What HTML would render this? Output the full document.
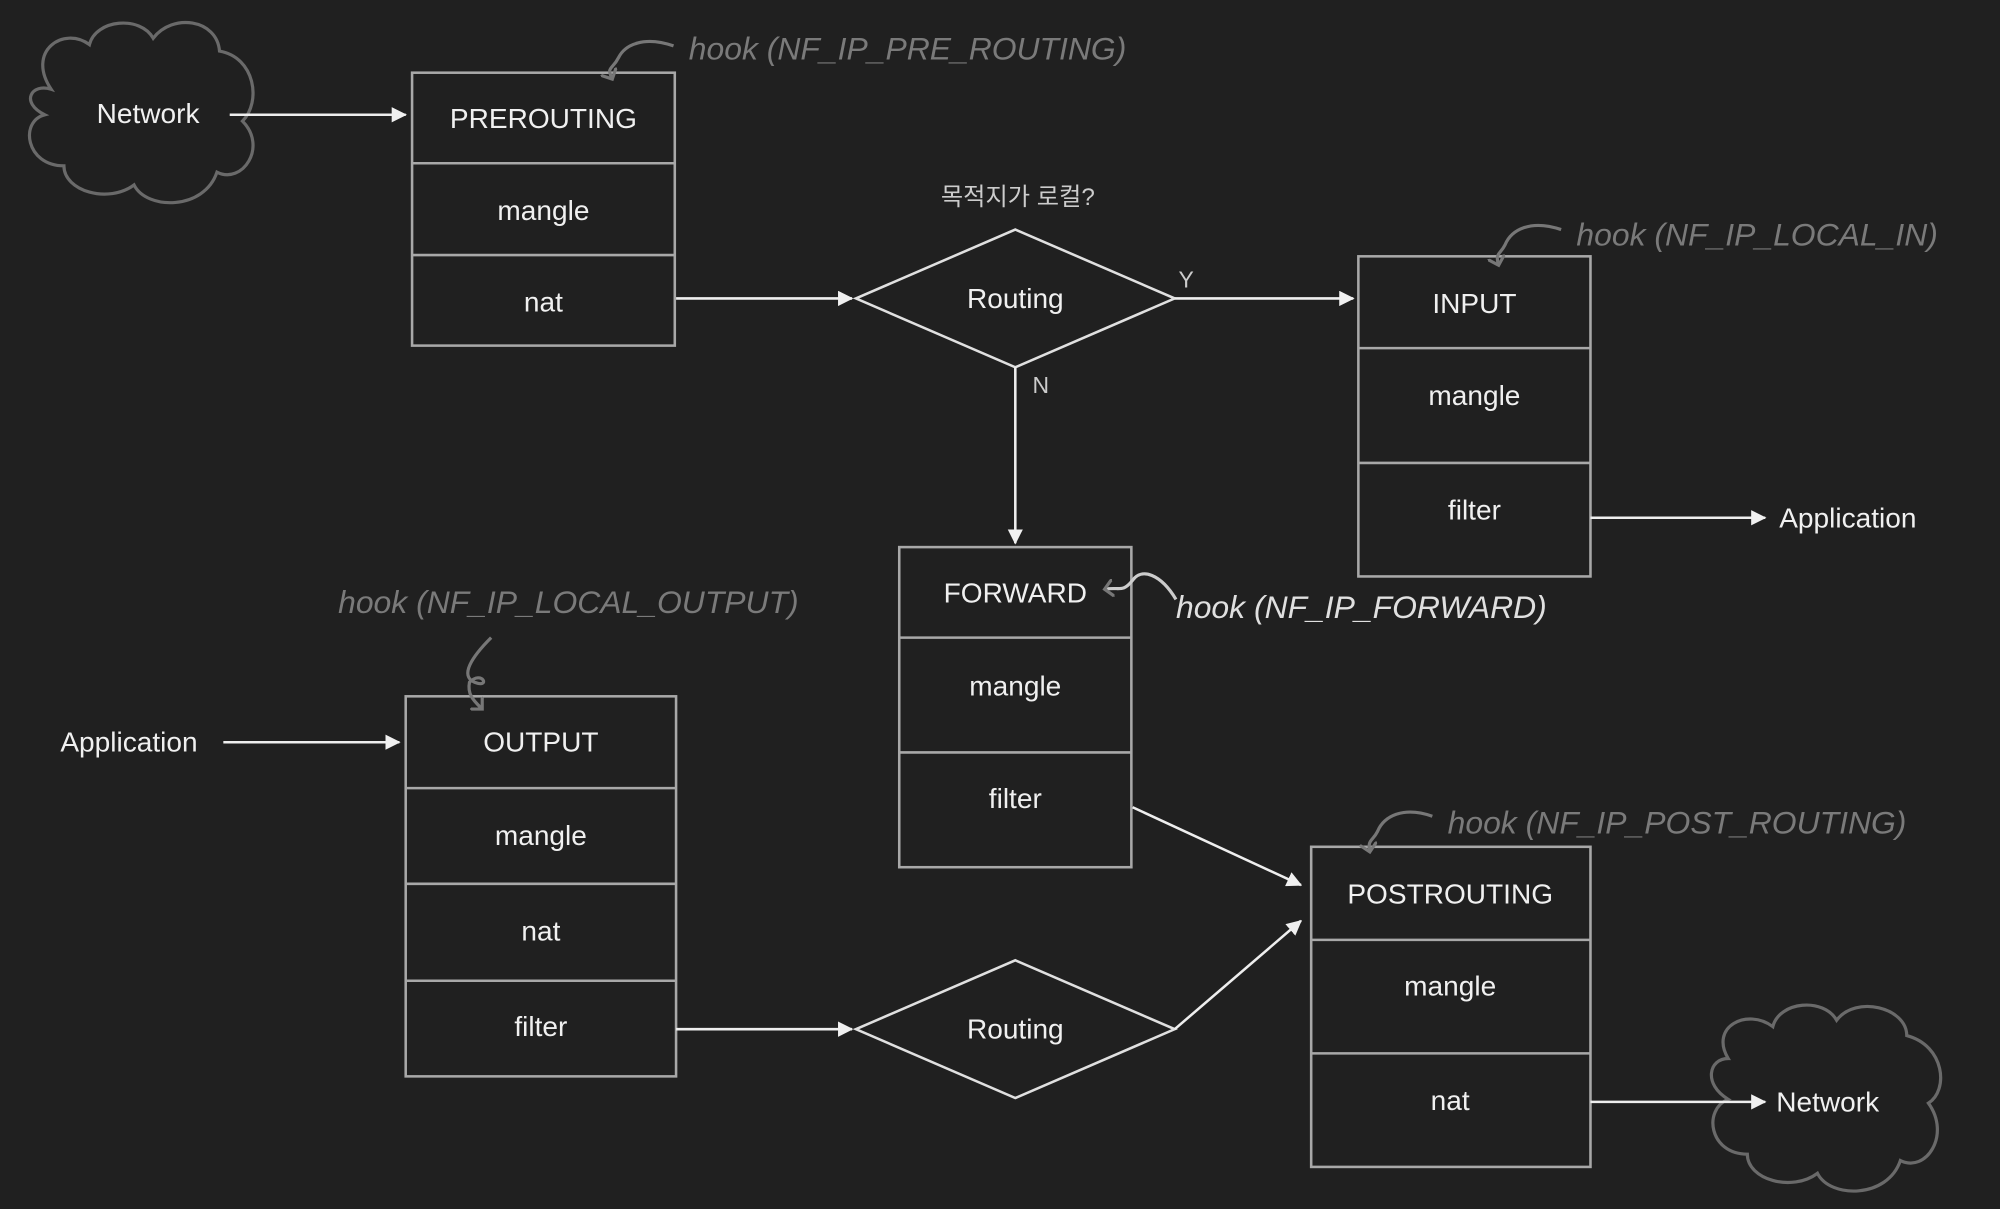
<!DOCTYPE html>
<html><head><meta charset="utf-8"><style>
html,body{margin:0;padding:0;background:#202020;}
svg{display:block}
.t{font-family:"Liberation Sans","Noto Sans CJK KR",sans-serif;fill:#f0f0f0;font-size:22px;text-anchor:middle;dominant-baseline:central}
.h{font-family:"Liberation Sans",sans-serif;font-style:italic;fill:#7a7a7a;font-size:25px;dominant-baseline:central}
.b{fill:none;stroke:#a8a8a8;stroke-width:2}
.l{fill:none;stroke:#eeeeee;stroke-width:2}
.c{fill:none;stroke:#6a6a6a;stroke-width:2.5}
.k{fill:none;stroke:#777;stroke-width:2.5}
</style></head><body>
<svg width="2000" height="1209" viewBox="0 0 1568 948" xmlns="http://www.w3.org/2000/svg">
<defs><marker id="a" markerWidth="12" markerHeight="12" refX="11" refY="6" orient="auto" markerUnits="userSpaceOnUse"><path d="M0,0 L12,6 L0,12 z" fill="#f0f0f0"/></marker>
<marker id="g" markerWidth="14" markerHeight="14" refX="7" refY="7" orient="auto" markerUnits="userSpaceOnUse"><path d="M0,0 L7,7 L0,14" fill="none" stroke="#777" stroke-width="2.5"/></marker></defs>
<rect width="1568" height="948" fill="#202020"/>
<!-- clouds -->
<path class="c" d="M40,70 C20,40 50,20 70,35 C75,15 110,12 120,30 C135,10 170,15 172,40 C200,45 205,80 190,95 C210,115 190,145 170,135 C160,165 115,165 105,145 C85,160 50,150 50,130 C20,130 15,95 35,90 C15,80 25,65 40,70 z"/>
<path class="c" d="M1355,830 C1340,805 1370,790 1390,805 C1395,785 1430,782 1440,800 C1455,780 1495,790 1495,812 C1525,820 1528,855 1512,865 C1530,890 1510,920 1490,910 C1480,940 1435,940 1425,920 C1405,935 1370,925 1370,905 C1340,905 1335,870 1355,862 C1335,850 1340,830 1355,830 z"/>
<text class="t" x="116" y="89">Network</text>
<text class="t" x="1433" y="864">Network</text>
<!-- PREROUTING -->
<rect class="b" x="323" y="57" width="206" height="214"/>
<line class="b" x1="323" y1="128" x2="529" y2="128"/><line class="b" x1="323" y1="200" x2="529" y2="200"/>
<text class="t" x="426" y="93">PREROUTING</text><text class="t" x="426" y="165">mangle</text><text class="t" x="426" y="237">nat</text>
<!-- INPUT -->
<rect class="b" x="1065" y="201" width="182" height="251"/>
<line class="b" x1="1065" y1="273" x2="1247" y2="273"/><line class="b" x1="1065" y1="363" x2="1247" y2="363"/>
<text class="t" x="1156" y="238">INPUT</text><text class="t" x="1156" y="310">mangle</text><text class="t" x="1156" y="400">filter</text>
<!-- FORWARD -->
<rect class="b" x="705" y="429" width="182" height="251"/>
<line class="b" x1="705" y1="500" x2="887" y2="500"/><line class="b" x1="705" y1="590" x2="887" y2="590"/>
<text class="t" x="796" y="465">FORWARD</text><text class="t" x="796" y="538">mangle</text><text class="t" x="796" y="626">filter</text>
<!-- OUTPUT -->
<rect class="b" x="318" y="546" width="212" height="298"/>
<line class="b" x1="318" y1="618" x2="530" y2="618"/><line class="b" x1="318" y1="693" x2="530" y2="693"/><line class="b" x1="318" y1="769" x2="530" y2="769"/>
<text class="t" x="424" y="582">OUTPUT</text><text class="t" x="424" y="655">mangle</text><text class="t" x="424" y="730">nat</text><text class="t" x="424" y="805">filter</text>
<!-- POSTROUTING -->
<rect class="b" x="1028" y="664" width="219" height="251"/>
<line class="b" x1="1028" y1="737" x2="1247" y2="737"/><line class="b" x1="1028" y1="826" x2="1247" y2="826"/>
<text class="t" x="1137" y="701">POSTROUTING</text><text class="t" x="1137" y="773">mangle</text><text class="t" x="1137" y="863">nat</text>
<!-- diamonds -->
<path class="b" d="M671,234 L796,180 L921,234 L796,288 z" style="stroke:#e0e0e0"/>
<text class="t" x="796" y="234">Routing</text>
<text class="t" x="798" y="155" style="font-size:19px;fill:#ccc">목적지가 로컬?</text>
<text class="t" x="930" y="219" style="font-size:18px;fill:#ccc">Y</text>
<text class="t" x="816" y="302" style="font-size:18px;fill:#ccc">N</text>
<path class="b" d="M671,807 L796,753 L921,807 L796,861 z" style="stroke:#e0e0e0"/>
<text class="t" x="796" y="807">Routing</text>
<!-- arrows -->
<line class="l" x1="180" y1="90" x2="318" y2="90" marker-end="url(#a)"/>
<line class="l" x1="530" y1="234" x2="668" y2="234" marker-end="url(#a)"/>
<line class="l" x1="921" y1="234" x2="1061" y2="234" marker-end="url(#a)"/>
<line class="l" x1="1247" y1="406" x2="1384" y2="406" marker-end="url(#a)"/>
<text class="t" x="1395" y="406" style="text-anchor:start">Application</text>
<line class="l" x1="796" y1="288" x2="796" y2="426" marker-end="url(#a)"/>
<line class="l" x1="888" y1="633" x2="1020" y2="694" marker-end="url(#a)"/>
<line class="l" x1="1247" y1="864" x2="1384" y2="864" marker-end="url(#a)"/>
<text class="t" x="101" y="582">Application</text>
<line class="l" x1="175" y1="582" x2="313" y2="582" marker-end="url(#a)"/>
<line class="l" x1="530" y1="807" x2="668" y2="807" marker-end="url(#a)"/>
<line class="l" x1="921" y1="807" x2="1020" y2="722" marker-end="url(#a)"/>
<!-- hooks -->
<path class="k" d="M528,36 C505,28 490,35 485,45 C480,55 475,52 480,62" marker-end="url(#g)"/>
<text class="h" x="540" y="38">hook (NF_IP_PRE_ROUTING)</text>
<path class="k" d="M1224,180 C1200,172 1185,180 1180,192 C1176,200 1172,198 1175,208" marker-end="url(#g)"/>
<text class="h" x="1236" y="184">hook (NF_IP_LOCAL_IN)</text>
<path class="k" d="M922,470 C910,450 895,445 888,455 C880,465 878,460 866,462" marker-end="url(#g)" style="stroke:#ccc"/>
<text class="h" x="922" y="476" style="fill:#e0e0e0">hook (NF_IP_FORWARD)</text>
<path class="k" d="M1123,640 C1100,632 1085,640 1080,652 C1076,660 1072,658 1074,668" marker-end="url(#g)"/>
<text class="h" x="1135" y="645">hook (NF_IP_POST_ROUTING)</text>
<path class="k" d="M385,500 C370,515 360,530 372,535 C385,540 378,525 368,535 C366,545 372,550 378,556" marker-end="url(#g)"/>
<text class="h" x="265" y="472">hook (NF_IP_LOCAL_OUTPUT)</text>
</svg>
</body></html>
